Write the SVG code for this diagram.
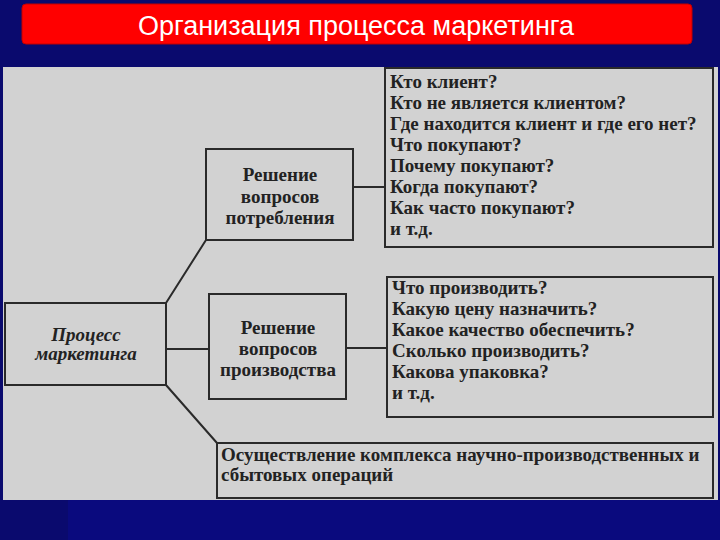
<svg xmlns="http://www.w3.org/2000/svg" width="720" height="540" viewBox="0 0 720 540">
<style>
.box{fill:none;stroke:#2a2a2a;stroke-width:2}
.ln{fill:none;stroke:#2a2a2a;stroke-width:2}
.t{font-family:"Liberation Serif","Times New Roman",serif;font-size:19px;fill:#222;font-weight:bold}
.c{text-anchor:middle}
.i{font-style:italic}
</style>
<rect x="0" y="0" width="720" height="540" fill="#0a0a6e"/>
<rect x="68" y="500" width="652" height="40" fill="#0a0a7e"/>
<g id="title">
<rect x="22" y="4" width="670" height="40" rx="4" fill="#ff0000" stroke="#c00000" stroke-width="1"/>
<text x="356" y="35" font-family="Liberation Sans, Arial, sans-serif" font-size="27" fill="#ffffff" text-anchor="middle">Организация процесса маркетинга</text>
</g>
<rect x="3" y="67" width="715" height="433" fill="#d2d2d2"/>
<g id="connectors">
<line class="ln" x1="353" y1="187" x2="385" y2="187"/>
<line class="ln" x1="346" y1="348" x2="387" y2="348"/>
<line class="ln" x1="166" y1="349" x2="209" y2="349"/>
<polyline class="ln" points="206,240 166,303 166,385 217,443"/>
</g>
<g id="process">
<rect class="box" x="5" y="303" width="161" height="82"/>
<text class="t c i" x="86" y="341" font-size="16">Процесс</text>
<text class="t c i" x="86" y="360" font-size="16">маркетинга</text>
</g>
<g id="consumption">
<rect class="box" x="206" y="149" width="147" height="91"/>
<text class="t c" x="280" y="181">Решение</text>
<text class="t c" x="280" y="203">вопросов</text>
<text class="t c" x="280" y="224">потребления</text>
</g>
<g id="production">
<rect class="box" x="209" y="294" width="137" height="105"/>
<text class="t c" x="278" y="334">Решение</text>
<text class="t c" x="278" y="355">вопросов</text>
<text class="t c" x="278" y="376">производства</text>
</g>
<g id="list1">
<rect class="box" x="385" y="68" width="328" height="179"/>
<text class="t" x="390" y="88">Кто клиент?</text>
<text class="t" x="390" y="109">Кто не является клиентом?</text>
<text class="t" x="390" y="130">Где находится клиент и где его нет?</text>
<text class="t" x="390" y="151">Что покупают?</text>
<text class="t" x="390" y="172">Почему покупают?</text>
<text class="t" x="390" y="193">Когда покупают?</text>
<text class="t" x="390" y="214">Как часто покупают?</text>
<text class="t" x="390" y="235">и т.д.</text>
</g>
<g id="list2">
<rect class="box" x="387" y="277" width="326" height="140"/>
<text class="t" x="392" y="294">Что производить?</text>
<text class="t" x="392" y="315">Какую цену назначить?</text>
<text class="t" x="392" y="336">Какое качество обеспечить?</text>
<text class="t" x="392" y="357">Сколько производить?</text>
<text class="t" x="392" y="378">Какова упаковка?</text>
<text class="t" x="392" y="399">и т.д.</text>
</g>
<g id="operations">
<rect class="box" x="217" y="443" width="496" height="55"/>
<text class="t" x="221" y="461">Осуществление комплекса научно-производственных и</text>
<text class="t" x="221" y="481">сбытовых операций</text>
</g>
</svg>
